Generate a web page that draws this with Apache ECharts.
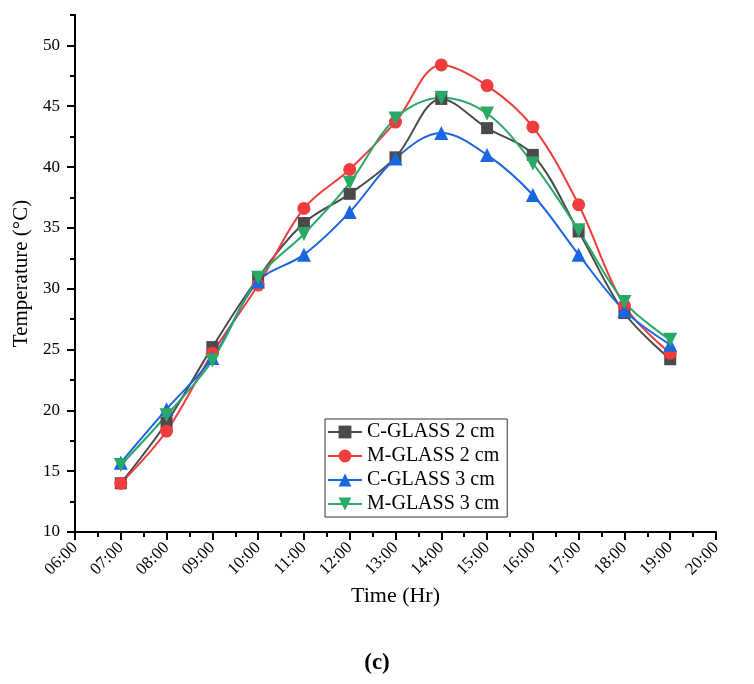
<!DOCTYPE html>
<html>
<head>
<meta charset="utf-8">
<script src="https://cdn.jsdelivr.net/npm/echarts@6/dist/echarts.min.js"></script>
<style>
  html, body { margin: 0; padding: 0; background: #fff; }
  #main { width: 754px; height: 684px; }
</style>
</head>
<body>
<div id="main"></div>
<script>
// time of day (hours) and the four series
var hours = [7, 8, 9, 10, 11, 12, 13, 14, 15, 16, 17, 18, 19];
var cGlass2 = [14.0, 19.0, 25.2, 30.9, 35.4, 37.8, 40.8, 45.6, 43.2, 41.0, 34.7, 28.0, 24.2];
var mGlass2 = [14.0, 18.3, 24.7, 30.3, 36.6, 39.8, 43.7, 48.4, 46.7, 43.3, 36.9, 28.6, 24.7];
var cGlass3 = [15.7, 20.1, 24.3, 30.6, 32.8, 36.3, 40.7, 42.8, 41.0, 37.7, 32.8, 28.2, 25.4];
var mGlass3 = [15.5, 19.6, 24.1, 30.9, 34.5, 38.7, 44.0, 45.7, 44.4, 40.3, 34.8, 28.9, 25.8];

var yMajor = [10, 15, 20, 25, 30, 35, 40, 45, 50];
var yMinor = [12.5, 17.5, 22.5, 27.5, 32.5, 37.5, 42.5, 47.5, 52.5];

var chart = echarts.init(document.getElementById('main'));
var font = '"Liberation Serif", "Times New Roman", serif';

function pairs(vals) {
  return hours.map(function (h, i) { return [h, vals[i]]; });
}

function mk(name, vals, color, symbol, size, rot) {
  return {
    name: name,
    type: 'line',
    smooth: 0.35,
    data: pairs(vals),
    symbol: symbol,
    symbolSize: size,
    symbolRotate: rot || 0,
    lineStyle: { color: color, width: 2 },
    itemStyle: { color: color },
    z: 3
  };
}

var option = {
  backgroundColor: '#fff',
  animation: false,
  textStyle: { fontFamily: font },
  title: {
    text: '(c)',
    left: 'center',
    top: 647,
    textStyle: { fontFamily: font, fontWeight: 'bold', fontSize: 23, color: '#000' }
  },
  grid: { left: 75, right: 38, top: 15, bottom: 152, outerBoundsMode: 'none', containLabel: false },
  legend: {
    orient: 'vertical',
    left: 325,
    top: 419,
    padding: [3, 8, 3, 2],
    itemWidth: 34,
    itemHeight: 16,
    itemGap: 4,
    borderColor: '#333',
    borderWidth: 1,
    textStyle: { fontFamily: font, fontSize: 20, lineHeight: 20, color: '#000' },
    data: ['C-GLASS 2 cm', 'M-GLASS 2 cm', 'C-GLASS 3 cm', 'M-GLASS 3 cm']
  },
  xAxis: {
    type: 'value',
    min: 6,
    max: 20,
    interval: 1,
    name: 'Time (Hr)',
    nameLocation: 'middle',
    nameGap: 52,
    nameTextStyle: { fontFamily: font, fontSize: 22, color: '#000' },
    splitLine: { show: false },
    axisLine: { lineStyle: { color: '#000', width: 2 } },
    axisTick: { inside: false, length: 8, lineStyle: { color: '#000', width: 2 } },
    minorTick: { show: true, splitNumber: 2, length: 5, lineStyle: { color: '#000', width: 2 } },
    axisLabel: {
      rotate: 45,
      margin: 13,
      fontFamily: font,
      fontSize: 17,
      color: '#000',
      formatter: function (v) { return (v < 10 ? '0' : '') + v + ':00'; }
    }
  },
  yAxis: [{
    type: 'value',
    min: 10,
    max: 52.5,
    interval: 5,
    name: 'Temperature (°C)',
    nameLocation: 'middle',
    nameGap: 41,
    nameTextStyle: { fontFamily: font, fontSize: 21, color: '#000' },
    splitLine: { show: false },
    axisLine: { lineStyle: { color: '#000', width: 2 } },
    axisTick: { inside: false, length: 8, customValues: yMajor, lineStyle: { color: '#000', width: 2 } },
    axisLabel: { margin: 15, customValues: yMajor, fontFamily: font, fontSize: 17, color: '#000' }
  }, {
    // only carries the minor ticks
    type: 'value',
    min: 10,
    max: 52.5,
    interval: 2.5,
    position: 'left',
    splitLine: { show: false },
    axisLine: { show: false },
    axisLabel: { show: false },
    axisTick: { inside: false, length: 5, customValues: yMinor, lineStyle: { color: '#000', width: 2 } }
  }],
  series: [
    mk('C-GLASS 2 cm', cGlass2, '#4a4a4a', 'rect', 12),
    mk('M-GLASS 2 cm', mGlass2, '#f03c3c', 'circle', 13),
    mk('C-GLASS 3 cm', cGlass3, '#1a66e0', 'triangle', 14),
    mk('M-GLASS 3 cm', mGlass3, '#2aa866', 'triangle', 14, 180)
  ]
};

chart.setOption(option);
</script>
</body>
</html>
